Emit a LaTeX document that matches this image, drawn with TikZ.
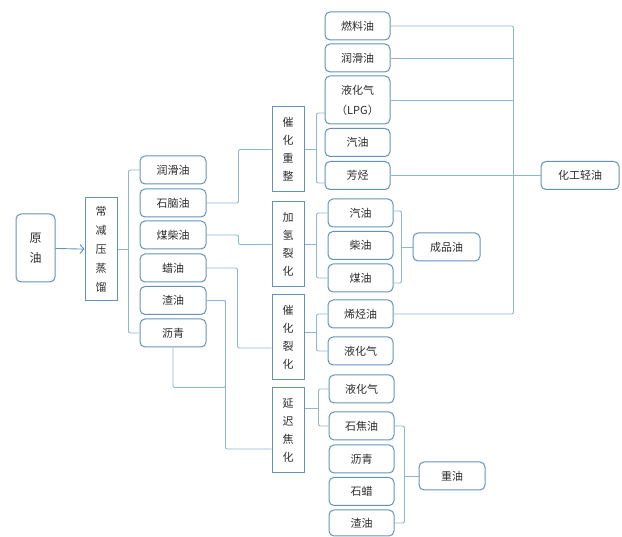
\documentclass[tikz,border=0pt]{standalone}
\usepackage{fontspec}
\setmainfont{Noto Sans CJK SC}
\usepackage{xcolor}
\usepackage{tikz}
\usetikzlibrary{calc, arrows.meta, positioning}

\definecolor{kuang}{RGB}{100,146,186}
\definecolor{xian}{RGB}{140,182,210}
\definecolor{zi}{RGB}{45,45,45}

\begin{document}
\begin{tikzpicture}[x=1pt, y=-1pt, >={Straight Barb[length=4pt,width=9pt]},
    hezi/.style={draw=kuang, line width=1pt, rounded corners=5pt, inner sep=0pt,
        text=zi, font=\fontsize{11}{13}\selectfont, align=center,
        minimum width=65pt, minimum height=28pt},
    shu/.style={draw=kuang, line width=1pt, inner sep=0pt, text=zi,
        font=\fontsize{11}{18}\selectfont, align=center,
        minimum width=32pt, minimum height=85pt},
    link/.style={draw=xian, line width=0.9pt, rounded corners=2pt}]
    \useasboundingbox (0,0) rectangle (622,537);

    % 原油 与 常减压蒸馏
    \node[hezi, minimum width=39pt, minimum height=68pt,
        font=\fontsize{12}{20}\selectfont] (yy) at (35.5,248) {原\\油};
    \node[shu, minimum height=103pt, font=\fontsize{11}{19}\selectfont]
        (cj) at (101,249.5) {常\\减\\压\\蒸\\馏};
    \draw[link, draw=kuang, ->] (yy) -- (cj);

    % 第一列
    \node[hezi, minimum width=66pt] (l1) at (173,170) {润滑油};
    \node[hezi, minimum width=66pt] (l2) at (173,203) {石脑油};
    \node[hezi, minimum width=66pt] (l3) at (173,235) {煤柴油};
    \node[hezi, minimum width=66pt] (l4) at (173,268) {蜡油};
    \node[hezi, minimum width=66pt] (l5) at (173,300.5) {渣油};
    \node[hezi, minimum width=66pt] (l6) at (173,333) {沥青};
    \draw[link] (cj.east) -- ++(11,0) coordinate (cjb);
    \draw[link] (l1.west) -- (l1.west -| cjb) -- (l6.west -| cjb) -- (l6.west);

    % 加工装置
    \node[shu] (m1) at (288,149.5) {催\\化\\重\\整};
    \node[shu] (m2) at (288,244.5) {加\\氢\\裂\\化};
    \node[shu] (m3) at (288,337) {催\\化\\裂\\化};
    \node[shu] (m4) at (288,430.5) {延\\迟\\焦\\化};
    \draw[link] (l2.east) -- ++(32,0) |- (m1.west);
    \draw[link] (l3.east) -- ++(32,0) |- (m2.west);
    \draw[link] (l4.east) -- ++(31,0) |- ([yshift=-11pt]m3.west);
    \draw[link] (l5.east) -- ++(19,0) coordinate (zj) |- ([yshift=-18.5pt]m4.west);
    \draw[link] (l6.south) -- ++(0,40) -| (zj);

    % 催化重整 产品
    \node[hezi] (r1) at (357.5,26) {燃料油};
    \node[hezi] (r2) at (357.5,58) {润滑油};
    \node[hezi, minimum height=48pt, font=\fontsize{11}{20}\selectfont]
        (r3) at (357.5,100) {液化气\\（LPG）};
    \node[hezi] (r4) at (357.5,142.5) {汽油};
    \node[hezi] (r5) at (357.5,175.5) {芳烃};
    \draw[link] (m1.east) -- ++(12,0) coordinate (m1b);
    \draw[link] ([yshift=-13pt]r3.west) -| (m1b) |- ([yshift=-7.5pt]r5.west);

    % 加氢裂化 产品
    \node[hezi] (s1) at (360.5,213) {汽油};
    \node[hezi] (s2) at (360.5,245.5) {柴油};
    \node[hezi] (s3) at (360.5,278) {煤油};
    \draw[link] (m2.east) -- ++(12,0) coordinate (m2b);
    \draw[link] (s1.west) -| (m2b) |- (s3.west);

    % 催化裂化 产品
    \node[hezi] (t1) at (360.5,314) {烯烃油};
    \node[hezi] (t2) at (360.5,351) {液化气};
    \draw[link] ([yshift=4.5pt]m3.east) -- ++(12,0) coordinate (m3b);
    \draw[link] (t1.west) -| (m3b) |- (t2.west);

    % 延迟焦化 产品
    \node[hezi] (u1) at (361.5,389) {液化气};
    \node[hezi] (u2) at (361.5,426) {石焦油};
    \node[hezi] (u3) at (361.5,459) {沥青};
    \node[hezi] (u4) at (361.5,491.5) {石蜡};
    \node[hezi, minimum height=26pt] (u5) at (361.5,523) {渣油};
    \draw[link] ([yshift=22.5pt]m4.east) -- ++(14,0) coordinate (m4b);
    \draw[link] (u1.west) -| (m4b) |- (u2.west);

    % 汇总
    \node[hezi, minimum width=67pt] (cp) at (446.5,247) {成品油};
    \node[hezi, minimum width=78pt] (hg) at (580,175.5) {化工轻油};
    \node[hezi, minimum width=66pt] (zy) at (452,476) {重油};
    \draw[link] (cp.west) -- ++(-11,0) coordinate (cpb);
    \draw[link] ([yshift=2pt]s1.east) -| (cpb) |- ([yshift=-5pt]s3.east);
    \draw[link] (zy.west) -- ++(-14,0) coordinate (zyb);
    \draw[link] (u2.east) -| (zyb) |- (u5.east);
    \draw[link] (r5.east) -- (hg.west);
    \draw[link] (r1.east) -- ++(123,0) coordinate (tk) |- (t1.east);
    \draw[link] (r2.east) -- (r2.east -| tk);
    \draw[link] (r3.east) -- (r3.east -| tk);
\end{tikzpicture}
\end{document}
